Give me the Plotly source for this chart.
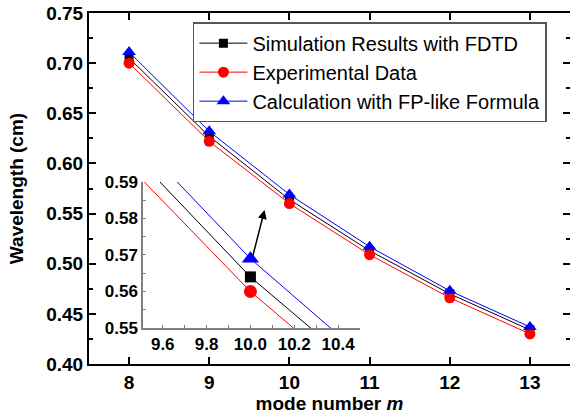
import plotly.graph_objects as go

mode_number = [8, 9, 10, 11, 12, 13]
fdtd = [0.705, 0.627, 0.564, 0.513, 0.470, 0.434]
experimental = [0.700, 0.622, 0.560, 0.509, 0.466, 0.430]
fp_formula = [0.711, 0.632, 0.569, 0.517, 0.473, 0.437]

series_names = ["Simulation Results with FDTD", "Experimental Data",
                "Calculation with FP-like Formula"]
y_ticks = [0.40, 0.45, 0.50, 0.55, 0.60, 0.65, 0.70, 0.75]
inset_y_ticks = [0.55, 0.56, 0.57, 0.58, 0.59]
inset_x_ticks = [9.6, 9.8, 10.0, 10.2, 10.4]

FONT = "Liberation Sans"
styles = [
    dict(color="black", symbol="square", size=9, isize=11),
    dict(color="red", symbol="circle", size=11, isize=13),
    dict(color="blue", symbol="triangle-up", size=12, isize=15),
]
data = [fdtd, experimental, fp_formula]


def bold(vals, fmt):
    return ["<b>" + format(v, fmt) + "</b>" for v in vals]


fig = go.Figure()
for name, vals, st in zip(series_names, data, styles):
    fig.add_trace(go.Scatter(
        x=mode_number, y=vals, name=name, mode="lines+markers",
        line=dict(color=st["color"], width=1),
        marker=dict(color=st["color"], symbol=st["symbol"], size=st["size"]),
        xaxis="x", yaxis="y"))
for name, vals, st in zip(series_names, data, styles):
    fig.add_trace(go.Scatter(
        x=mode_number, y=vals, name=name, mode="lines+markers", showlegend=False,
        line=dict(color=st["color"], width=1),
        marker=dict(color=st["color"], symbol=st["symbol"], size=st["isize"]),
        xaxis="x2", yaxis="y2"))

axis_common = dict(showline=True, linecolor="black", linewidth=2, ticks="inside",
                   tickcolor="black", tickwidth=1.5, ticklen=7, showgrid=False,
                   zeroline=False, mirror="ticks", automargin=False,
                   tickfont=dict(family=FONT, size=19, color="black"))
inset_common = dict(showline=True, linecolor="#808080", linewidth=1.5, ticks="inside",
                    ticklen=3, tickcolor="#808080", showgrid=False, zeroline=False,
                    automargin=False,
                    tickfont=dict(family=FONT, size=17, color="black"))

fig.update_layout(
    width=570, height=416,
    margin=dict(l=89, r=0, t=13, b=52, autoexpand=False),
    paper_bgcolor="white", plot_bgcolor="rgba(0,0,0,0)",
    font=dict(family=FONT, color="black"),
    xaxis=dict(axis_common, range=[7.5, 13.5], tickvals=mode_number,
               ticktext=bold(mode_number, "d"),
               title=dict(text="<b>mode number <i>m</i></b>", standoff=2,
                          font=dict(family=FONT, size=19, color="black"))),
    yaxis=dict(axis_common, range=[0.40, 0.75], tickvals=y_ticks,
               ticktext=bold(y_ticks, ".2f"),
               minor=dict(dtick=0.025, ticklen=4, ticks="inside", tickcolor="black"),
               title=dict(text="<b>Wavelength (cm)</b>", standoff=18,
                          font=dict(family=FONT, size=19, color="black"))),
    xaxis2=dict(inset_common, domain=[0.1123, 0.5634], anchor="y2", range=[9.51, 10.5],
                tickvals=inset_x_ticks, ticktext=bold(inset_x_ticks, ".1f"),
                minor=dict(dtick=0.1, ticklen=3, ticks="inside", tickcolor="#808080")),
    yaxis2=dict(inset_common, domain=[0.1026, 0.5185], anchor="x2", range=[0.55, 0.59],
                tickvals=inset_y_ticks, ticktext=bold(inset_y_ticks, ".2f"),
                minor=dict(dtick=0.005, ticklen=3, ticks="inside", tickcolor="#808080")),
    legend=dict(x=0.216, y=0.974, xanchor="left", yanchor="top",
                bgcolor="white", bordercolor="#555555", borderwidth=1.5,
                font=dict(family=FONT, size=20, color="black"),
                itemwidth=48, tracegroupgap=0),
    showlegend=True,
)

fig.add_annotation(x=9.69, y=0.5536, ax=9.54, ay=0.5067, xref="x", yref="y",
                   axref="x", ayref="y", showarrow=True, arrowhead=2,
                   arrowsize=1.2, arrowwidth=1.5, arrowcolor="black", text="")

fig.write_html("out.html", config={"displayModeBar": False},
               post_script="document.body.style.margin='0';document.body.style.overflow='hidden';")
